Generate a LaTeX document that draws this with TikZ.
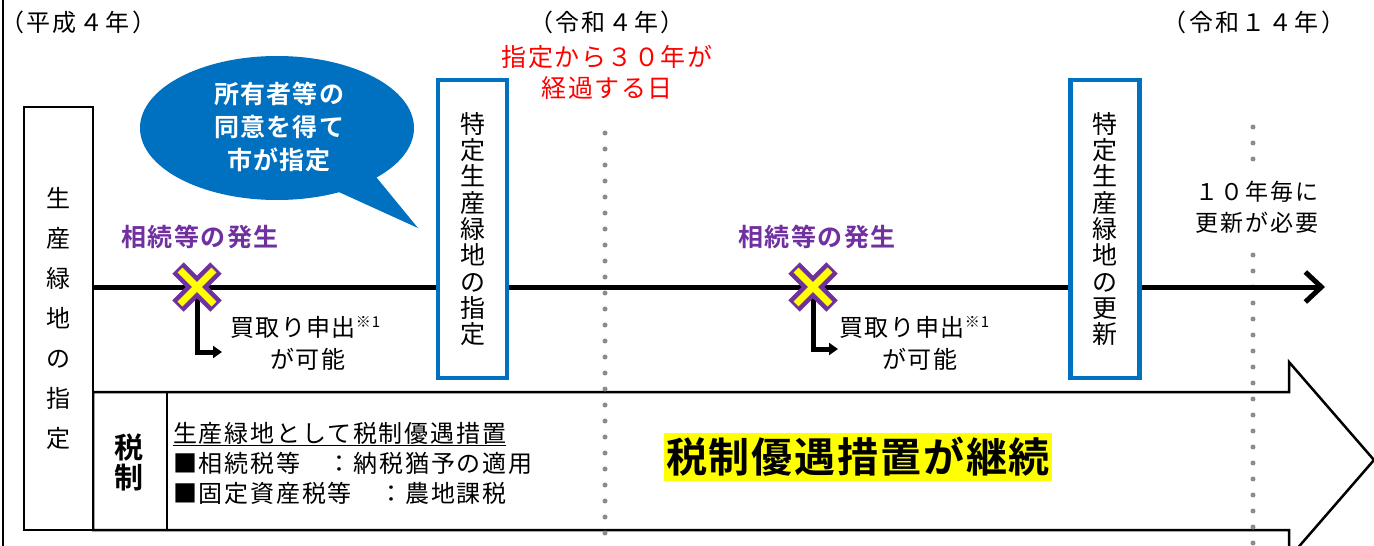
\documentclass[tikz,border=0pt]{standalone}
\usepackage{fontspec}
\setmainfont{Noto Sans CJK JP}[BoldFont={Noto Sans CJK JP Bold}]
\usetikzlibrary{arrows.meta,shapes.geometric,calc}
\definecolor{bblue}{HTML}{0070C0}
\definecolor{ppl}{HTML}{7030A0}
\definecolor{dotgray}{HTML}{8C8C8C}
\definecolor{hlyellow}{HTML}{FFFF00}
\newcommand{\fsz}[2]{\fontsize{#1}{#2}\selectfont}
\newcommand{\lsp}[1]{\addfontfeatures{LetterSpace=#1}}
\tikzset{
  datelbl/.style={font=\fsz{24}{28}\lsp{10}, inner sep=0pt},
  redlbl/.style={font=\fsz{25}{31}\lsp{6}, text=red, align=center, inner sep=0pt},
  purplbl/.style={font=\fsz{25}{28}\bfseries\lsp{6}, text=ppl, inner sep=0pt},
  bluebox/.style={draw=bblue, line width=4.5pt, fill=white, minimum width=69pt, minimum height=298pt, align=center, font=\fsz{25}{26.3}, inner sep=0pt},
  blackbox/.style={draw=black, line width=1.8pt, fill=white, align=center, inner sep=0pt},
  dotline/.style={dotgray, line width=5pt, line cap=round, dash pattern=on 0pt off 16pt},
  benttip/.style={line width=5pt, -{Triangle[length=9pt,width=12pt]}},
  buylbl/.style={font=\fsz{24}{33}\lsp{6}, align=center, inner sep=0pt},
  taxline/.style={font=\fsz{24}{28}\lsp{7.5}, anchor=west, inner sep=0pt},
}
\begin{document}
\begin{tikzpicture}[x=1pt,y=-1pt]
\useasboundingbox (0,0) rectangle (1374,546);
\fill[white] (0,0) rectangle (1374,546);

% left border line
\coordinate (bt) at (3,0);
\coordinate (bb) at (3,546);
\draw[line width=1.5pt] (bt) -- (bb);

% tax arrow (big white arrow)
\draw[line width=2.5pt, fill=white, line join=miter]
  (93,392) -- (1289,392) -- (1289,362) -- (1374,460) -- (1289,558) -- (1289,530) -- (93,530) -- cycle;
\coordinate (dt) at (167,392);
\coordinate (db) at (167,530);
\draw[line width=2.5pt] (dt) -- (db);
\node[font=\fsz{29}{30}\bfseries, align=center, inner sep=0pt] (zei) at (129,462) {税\\制};
\node[taxline] (t1) at (173,434) {\underline{生産緑地として税制優遇措置}};
\node[taxline] (t2) at (173,463) {■相続税等　：納税猶予の適用};
\node[taxline] (t3) at (173,493) {■固定資産税等　：農地課税};
\node[fill=hlyellow, font=\fsz{41}{44}\bfseries\lsp{4.5}, inner xsep=2pt, inner ysep=4pt] (keizoku) at (858,457) {税制優遇措置が継続};

% left black box
\node[blackbox, minimum width=69pt, minimum height=423pt, font=\fsz{24}{40}] (shitei) at (58.5,318.5) {生\\産\\緑\\地\\の\\指\\定};

% dotted lines
\coordinate (d1t) at (605,133);
\coordinate (d1b) at (605,546);
\coordinate (d2t) at (1253,127);
\coordinate (d2b) at (1253,546);
\draw[dotline] (d1t) -- (d1b);
\draw[dotline] (d2t) -- (d2b);

% timeline
\coordinate (tl0) at (93,287);
\coordinate (tl1) at (1325,287);
\draw[line width=5pt, -{Straight Barb[length=16pt,width=30pt]}] (tl0) -- (tl1);

% blue boxes
\node[bluebox] (tokutei) at (472.5,229) {特\\定\\生\\産\\緑\\地\\の\\指\\定};
\node[bluebox] (koushin) at (1105,229) {特\\定\\生\\産\\緑\\地\\の\\更\\新};

% top labels
\node[datelbl, anchor=west] (h4) at (0,22) {（平成４年）};
\node[datelbl] (r4) at (607,22) {（令和４年）};
\node[datelbl] (r14) at (1254,22) {（令和１４年）};
\node[redlbl] (red) at (607,72) {指定から３０年が\\経過する日};

% 10 years note
\node[fill=white, font=\fsz{23}{31}\lsp{8}, align=center, inner xsep=2pt, inner ysep=9pt] (ten) at (1257,207) {１０年毎に\\更新が必要};

% speech bubble
\node[ellipse, fill=bblue, minimum width=274pt, minimum height=144pt, inner sep=0pt] (bubble) at (277,128) {};
\coordinate (tailA) at (372,172);
\coordinate (tailTip) at (418,228);
\coordinate (tailB) at (330,188);
\fill[bblue] (tailA) -- (tailTip) -- (tailB) -- cycle;
\node[font=\fsz{25}{33}\bfseries\lsp{5}, text=white, align=center, inner sep=0pt] (btxt) at (279,127) {所有者等の\\同意を得て\\市が指定};

% inheritance events
\node[purplbl] (ev1) at (200,237) {相続等の発生};
\node[purplbl] (ev2) at (817,237) {相続等の発生};

\coordinate (x1) at (197,287);
\coordinate (x2) at (813,287);
\coordinate (a1e) at (222,352);
\coordinate (a2e) at (838,349);
\draw[benttip] (x1) |- (a1e);
\draw[benttip] (x2) |- (a2e);

\foreach \c in {x1,x2}{
  \draw[ppl, line width=16pt] ($(\c)+(-19,-19)$) -- ($(\c)+(19,19)$);
  \draw[ppl, line width=16pt] ($(\c)+(-19,19)$) -- ($(\c)+(19,-19)$);
  \draw[hlyellow, line width=7pt] ($(\c)+(-17,-17)$) -- ($(\c)+(17,17)$);
  \draw[hlyellow, line width=7pt] ($(\c)+(-17,17)$) -- ($(\c)+(17,-17)$);
}

\node[buylbl, anchor=west] (buy1) at (230,327) {買取り申出\raisebox{9pt}{\fsz{15}{16}※1}};
\node[buylbl] (can1) at (308,359) {が可能};
\node[buylbl, anchor=west] (buy2) at (839,327) {買取り申出\raisebox{9pt}{\fsz{15}{16}※1}};
\node[buylbl] (can2) at (920,359) {が可能};
\end{tikzpicture}
\end{document}
